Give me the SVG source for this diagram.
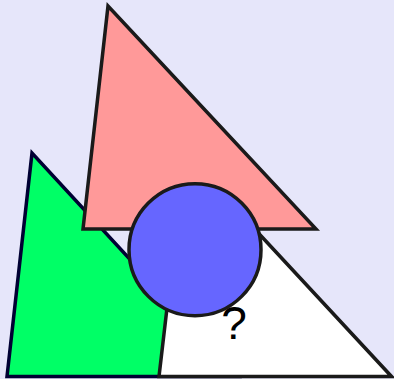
<svg xmlns="http://www.w3.org/2000/svg" width="394" height="379" viewBox="0 0 394 379">
<style>
.s{stroke:#1a1a1a;stroke-width:3.5;stroke-linejoin:miter}
.g{stroke:#000033;stroke-width:3.5;stroke-linejoin:miter}
text{font-family:"Liberation Sans",Arial,sans-serif;font-size:46px;fill:#000}
</style>
<rect x="0" y="0" width="394" height="379" fill="#e6e6fa"/>
<g id="green"><polygon class="g" points="32,153 7,376.5 238,376.5" fill="#00ff66"/></g>
<g id="white"><polygon class="s" points="185,154 159,376.5 391.5,376.5" fill="#ffffff"/></g>
<g id="pink"><polygon class="s" points="108,6 83,229 316,229" fill="#ff9999"/></g>
<g id="label"><text x="234" y="339" text-anchor="middle">?</text></g>
<g id="circle"><circle class="s" cx="195" cy="249.7" r="66" fill="#6666ff"/></g>
<g id="connectors"></g>
</svg>
